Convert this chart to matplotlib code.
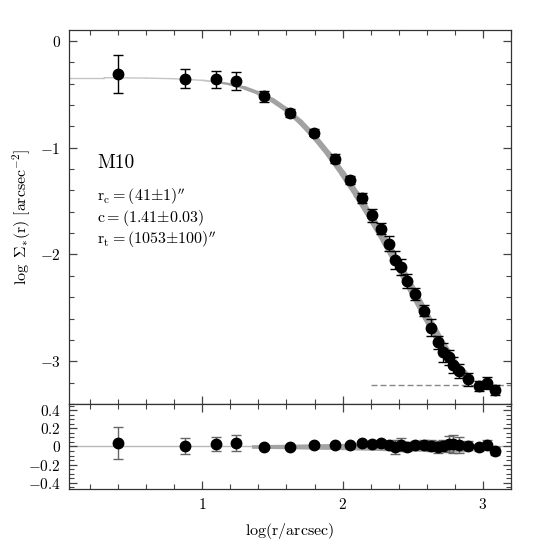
import matplotlib
matplotlib.use("Agg")
import matplotlib.pyplot as plt
from matplotlib.collections import LineCollection
from matplotlib.ticker import MultipleLocator, FuncFormatter
import numpy as np

# surface density profile of M10
log_r = [0.398, 0.876, 1.097, 1.240, 1.437, 1.627, 1.793, 1.943, 2.050, 2.138,
         2.209, 2.271, 2.328, 2.376, 2.418, 2.458, 2.513, 2.577, 2.627, 2.679,
         2.715, 2.758, 2.786, 2.827, 2.893, 2.969, 3.031, 3.088]
log_sigma = [-0.31, -0.353, -0.36, -0.379, -0.52, -0.676, -0.86, -1.104, -1.305, -1.47,
             -1.634, -1.758, -1.90, -2.05, -2.118, -2.247, -2.37, -2.526, -2.685, -2.823,
             -2.917, -2.963, -3.036, -3.092, -3.17, -3.233, -3.20, -3.27]
sigma_err = [0.178, 0.09, 0.078, 0.083, 0.05, 0.04, 0.035, 0.04, 0.04, 0.045,
             0.06, 0.048, 0.07, 0.085, 0.078, 0.064, 0.055, 0.05, 0.08, 0.06,
             0.086, 0.07, 0.078, 0.066, 0.063, 0.045, 0.055, 0.045]

# residuals (data - model)
resid = [0.038, 0.008, 0.026, 0.038, -0.011, -0.011, 0.019, 0.019, 0.019, 0.034,
         0.026, 0.034, 0.015, -0.004, 0.019, -0.004, 0.015, 0.019, 0.008, -0.004,
         0.008, 0.026, 0.026, 0.019, 0.008, -0.011, 0.019, -0.049]
resid_err = [0.175, 0.09, 0.08, 0.085, 0.02, 0.015, 0.02, 0.02, 0.025, 0.03,
             0.03, 0.035, 0.045, 0.08, 0.07, 0.05, 0.045, 0.05, 0.06, 0.07,
             0.06, 0.09, 0.1, 0.09, 0.05, 0.04, 0.05, 0.04]

# King model curve (incl. background)
model_x = [0.05, 0.3, 0.6, 0.8, 1.0, 1.1, 1.2, 1.3, 1.4, 1.5, 1.6, 1.7, 1.8, 1.9,
           2.0, 2.1, 2.2, 2.3, 2.4, 2.5, 2.6, 2.7, 2.8, 2.9]
model_y = [-0.345, -0.345, -0.349, -0.355, -0.370, -0.385, -0.407, -0.440, -0.489,
           -0.556, -0.646, -0.761, -0.900, -1.061, -1.242, -1.438, -1.648, -1.869,
           -2.102, -2.343, -2.588, -2.826, -3.030, -3.167]
background = -3.22

# uncertainty wedge in residual panel
band_x = [1.35, 1.6, 2.0, 2.4, 2.8, 2.88]
band_w = [0.02, 0.025, 0.035, 0.05, 0.06, 0.06]

plt.rcParams['font.family'] = ['cmr10']
plt.rcParams['mathtext.fontset'] = 'cm'
plt.rcParams['axes.formatter.use_mathtext'] = True

fig = plt.figure(figsize=(5.58, 5.58), dpi=100)
ax1 = fig.add_axes([0.1237, 0.276, 0.792, 0.670])
ax2 = fig.add_axes([0.1237, 0.1237, 0.792, 0.1523])

# model curve, thickening outwards
pts = np.column_stack([model_x, model_y])
segs = np.stack([pts[:-1], pts[1:]], axis=1)
mid = 0.5 * (pts[:-1, 0] + pts[1:, 0])
widths = np.interp(mid, [1.0, 1.5, 2.0, 2.4, 2.9], [1.0, 3.5, 4.5, 6.0, 6.0])
cols = ['#c4c4c4' if w < 1.5 else '#a2a2a2' for w in widths]
lc = LineCollection(segs, linewidths=widths, colors=cols, capstyle='round', zorder=1)
ax1.add_collection(lc)
ax1.hlines(background, 2.2, 3.2, colors='#888888', lw=1.0, linestyles=(0, (4.3, 2.2)), zorder=1)

ax1.errorbar(log_r, log_sigma, yerr=sigma_err, fmt='o', color='black', ms=7.5,
             capsize=3.5, elinewidth=1, capthick=1, zorder=3)

ax1.text(0.25, -1.14, 'M10', fontsize=14, va='center')
ax1.text(0.25, -1.46, r'$\mathrm{r_c{=}(41{\pm}1)^{\prime\prime}}$', fontsize=11.5, va='center')
ax1.text(0.25, -1.66, r'$\mathrm{c{=}(1.41{\pm}0.03)}$', fontsize=11.5, va='center')
ax1.text(0.25, -1.86, r'$\mathrm{r_t{=}(1053{\pm}100)^{\prime\prime}}$', fontsize=11.5, va='center')

# residual panel
ax2.axhline(0, color='#b8b8b8', lw=1, zorder=1)
ax2.fill_between(band_x, -np.array(band_w), band_w, color='#a4a4a4', lw=0, zorder=1)
ax2.errorbar(log_r, resid, yerr=resid_err, fmt='o', color='black', ecolor='#666666',
             ms=7.5, capsize=3.5, elinewidth=1, capthick=1, zorder=3)

fmt = FuncFormatter(lambda v, p: '$%g$' % round(v, 2))
for ax in (ax1, ax2):
    ax.set_xlim(0.05, 3.2)
    ax.xaxis.set_major_locator(MultipleLocator(1))
    ax.xaxis.set_minor_locator(MultipleLocator(0.2))
    ax.tick_params(which='both', direction='in', top=True, right=True,
                   color='#444444', labelsize=11, pad=6)
    ax.tick_params(which='major', length=6, width=0.9)
    ax.tick_params(which='minor', length=3.5, width=0.8)
    ax.yaxis.set_major_formatter(fmt)
    ax.xaxis.set_major_formatter(fmt)
    for s in ax.spines.values():
        s.set_color('#333333')
        s.set_linewidth(0.9)

ax1.set_ylim(-3.4, 0.1)
ax1.yaxis.set_major_locator(MultipleLocator(1))
ax1.yaxis.set_minor_locator(MultipleLocator(0.2))
ax1.tick_params(labelbottom=False)
ax1.set_ylabel(r'$\log\ \Sigma_{*}(\mathrm{r})\ [\mathrm{arcsec}^{-2}]$', fontsize=11.5, labelpad=5)

ax2.set_ylim(-0.47, 0.47)
ax2.yaxis.set_major_locator(MultipleLocator(0.2))
ax2.yaxis.set_minor_locator(MultipleLocator(0.05))
ax2.set_xlabel(r'$\mathrm{log(r/arcsec)}$', fontsize=11.5, labelpad=6)

fig.savefig('out.png', dpi=100)
